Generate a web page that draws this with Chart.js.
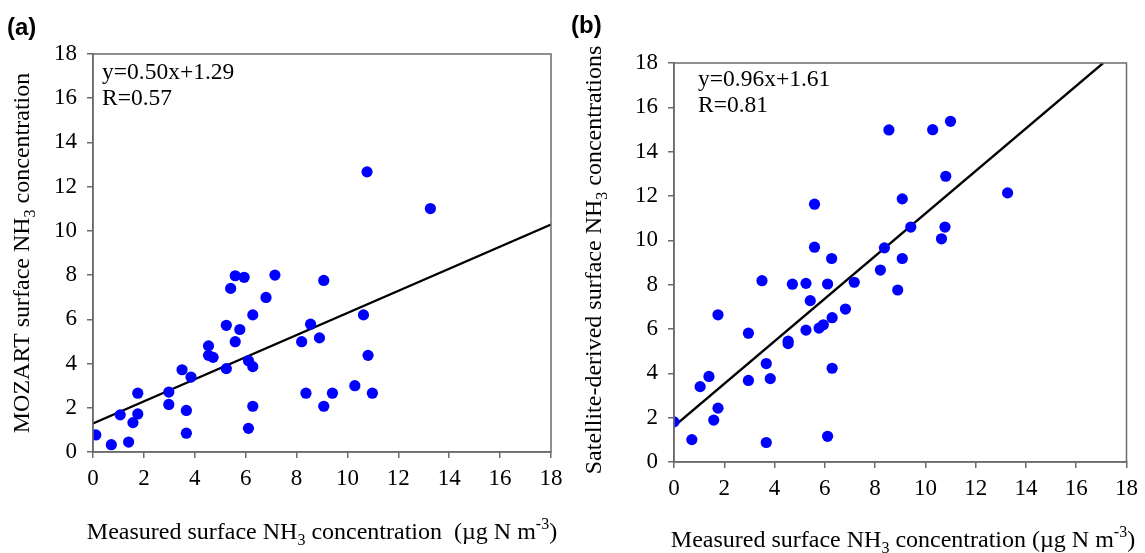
<!DOCTYPE html>
<html>
<head>
<meta charset="utf-8">
<script src="https://cdn.jsdelivr.net/npm/chart.js@4.4.0/dist/chart.umd.min.js"></script>
<style>
  html, body { margin: 0; padding: 0; background: #fff; }
  #wrap { position: relative; width: 1145px; height: 553px; }
  canvas { position: absolute; top: 0; }
</style>
</head>
<body>
<div id="wrap">
  <canvas id="chartA" width="572" height="553" style="left:0"></canvas>
  <canvas id="chartB" width="573" height="553" style="left:572px"></canvas>
</div>
<script>
// ---- data ----
const axisTicks = [0, 2, 4, 6, 8, 10, 12, 14, 16, 18];

// (a) measured vs MOZART
const measuredA = [0.11, 0.72, 1.40, 1.07, 1.57, 1.76, 1.76, 2.98, 2.98, 3.50, 3.85, 3.67, 3.67,
  4.54, 4.54, 4.72, 5.24, 5.24, 5.41, 5.59, 5.94, 5.59, 5.77, 6.28, 6.11, 6.28, 6.28, 6.11,
  6.80, 7.15, 8.20, 8.55, 8.37, 8.90, 9.07, 9.07, 9.41, 10.29, 10.63, 10.81, 10.98, 10.77, 13.26];
const mozartA = [0.77, 0.33, 0.45, 1.68, 1.33, 1.72, 2.66, 2.71, 2.15, 3.72, 3.39, 1.88, 0.85,
  4.80, 4.37, 4.28, 3.77, 5.73, 7.40, 7.97, 7.90, 4.99, 5.54, 6.20, 4.13, 3.86, 2.07, 1.07,
  6.99, 8.00, 4.99, 5.78, 2.66, 5.16, 7.76, 2.07, 2.66, 3.00, 6.20, 4.37, 2.66, 12.67, 11.01];
const fitA = { slope: 0.50, intercept: 1.29, label: 'y=0.50x+1.29', r: 'R=0.57' };

// (b) measured vs satellite-derived
const measuredB = [0.00, 0.71, 1.04, 1.39, 1.58, 1.75, 1.75, 2.96, 2.96, 3.50, 3.67, 3.83, 3.67,
  4.54, 4.54, 4.71, 5.25, 5.42, 5.25, 5.77, 5.94, 6.11, 6.29, 6.29, 6.11, 6.82, 7.17, 8.21,
  8.90, 8.55, 10.29, 11.00, 10.81, 13.27, 9.08, 5.59, 9.42, 10.78, 10.64, 5.59, 8.37, 6.27, 9.08];
const satelliteB = [1.81, 1.01, 3.40, 3.86, 1.89, 2.43, 6.64, 5.81, 3.68, 8.18, 4.44, 3.76, 0.88,
  5.45, 5.34, 8.02, 8.06, 7.28, 5.95, 6.04, 6.19, 8.03, 6.51, 4.23, 1.16, 6.90, 8.11, 8.66,
  7.76, 14.98, 14.99, 15.37, 12.89, 12.14, 11.87, 11.63, 10.60, 10.60, 10.07, 9.69, 9.66, 9.18, 9.18];
const fitB = { slope: 0.96, intercept: 1.61, label: 'y=0.96x+1.61', r: 'R=0.81' };

const AXIS_MIN = 0, AXIS_MAX = 18;
const serif = "'Liberation Serif', 'Times New Roman', serif";
const frameColor = '#6b6b6b';
const TITLE_SIZE = 24;

function pairs(xs, ys) {
  return xs.map((x, i) => ({ x: x, y: ys[i] }));
}

// regression line from the printed equation, clipped to the axis box
function fitLine(fit) {
  let xEnd = AXIS_MAX;
  if (fit.slope * xEnd + fit.intercept > AXIS_MAX) xEnd = (AXIS_MAX - fit.intercept) / fit.slope;
  return [
    { x: AXIS_MIN, y: fit.intercept },
    { x: xEnd, y: fit.slope * xEnd + fit.intercept }
  ];
}

// draw text made of parts [text, 'n' | 'sub' | 'sup'], centred on (x, y)
function drawRich(ctx, parts, x, y, size, rotate) {
  ctx.save();
  ctx.translate(x, y);
  if (rotate) ctx.rotate(-Math.PI / 2);
  ctx.fillStyle = '#000';
  ctx.textBaseline = 'alphabetic';
  ctx.textAlign = 'left';
  const fontOf = p => (p[1] === 'n' ? size : Math.round(size * 0.68)) + 'px ' + serif;
  let total = 0;
  const widths = parts.map(p => {
    ctx.font = fontOf(p);
    const w = ctx.measureText(p[0]).width;
    total += w;
    return w;
  });
  let cx = -total / 2;
  const base = size * 0.33;
  parts.forEach((p, i) => {
    ctx.font = fontOf(p);
    let dy = 0;
    if (p[1] === 'sub') dy = size * 0.25;
    if (p[1] === 'sup') dy = -size * 0.4;
    ctx.fillText(p[0], cx, base + dy);
    cx += widths[i];
  });
  ctx.restore();
}

// frame around the plot + panel letter + equation + axis titles
function decorPlugin(opts) {
  return {
    id: 'decor',
    afterDraw(chart) {
      const { ctx, chartArea } = chart;
      ctx.save();
      ctx.strokeStyle = frameColor;
      ctx.lineWidth = 1.5;
      ctx.strokeRect(chartArea.left, chartArea.top, chartArea.right - chartArea.left, chartArea.bottom - chartArea.top);

      ctx.fillStyle = '#000';
      ctx.font = "bold 24px 'Liberation Sans', Arial, sans-serif";
      ctx.textAlign = 'left';
      ctx.textBaseline = 'middle';
      ctx.fillText(opts.letter, opts.letterX, opts.letterY);

      ctx.font = '23.5px ' + serif;
      ctx.fillText(opts.fit.label, opts.eqX, opts.eqY);
      ctx.fillText(opts.fit.r, opts.eqX, opts.eqY + 26);
      ctx.restore();

      drawRich(ctx, opts.xTitle, opts.xTitleX, opts.xTitleY, TITLE_SIZE, false);
      drawRich(ctx, opts.yTitle, opts.yTitleX, opts.yTitleY, TITLE_SIZE, true);
    }
  };
}

function makeChart(id, xs, ys, fit, geom, decor) {
  const tickFont = { family: serif, size: 23 };
  return new Chart(document.getElementById(id), {
    type: 'scatter',
    plugins: [decorPlugin(decor)],
    data: {
      datasets: [
        {
          data: pairs(xs, ys),
          backgroundColor: '#0000ff',
          borderWidth: 0,
          pointRadius: 5.6,
          pointHoverRadius: 5.6
        },
        {
          type: 'line',
          data: fitLine(fit),
          borderColor: '#000',
          borderWidth: 2.3,
          pointRadius: 0,
          fill: false
        }
      ]
    },
    options: {
      responsive: false,
      animation: false,
      layout: { padding: { left: 0, top: geom.top, right: geom.right, bottom: 0 } },
      plugins: { legend: { display: false }, tooltip: { enabled: false } },
      scales: {
        x: {
          type: 'linear',
          min: AXIS_MIN,
          max: AXIS_MAX,
          afterBuildTicks: s => { s.ticks = axisTicks.map(v => ({ value: v })); },
          afterFit: s => { s.height = geom.xHeight; },
          ticks: { font: tickFont, color: '#000', padding: 7, maxRotation: 0 },
          grid: { drawOnChartArea: false, drawTicks: true, tickLength: 6, color: frameColor, lineWidth: 1.5 },
          border: { color: frameColor, width: 1.5 }
        },
        y: {
          type: 'linear',
          min: AXIS_MIN,
          max: AXIS_MAX,
          afterBuildTicks: s => { s.ticks = axisTicks.map(v => ({ value: v })); },
          afterFit: s => { s.width = geom.yWidth; },
          ticks: { font: tickFont, color: '#000', padding: 10 },
          grid: { drawOnChartArea: false, drawTicks: true, tickLength: 6, color: frameColor, lineWidth: 1.5 },
          border: { color: frameColor, width: 1.5 }
        }
      }
    }
  });
}

const nh3 = [['Measured surface NH', 'n'], ['3', 'sub'], [' concentration  (\u00b5g N m', 'n'], ['-3', 'sup'], [')', 'n']];
const nh3b = [['Measured surface NH', 'n'], ['3', 'sub'], [' concentration (\u00b5g N m', 'n'], ['-3', 'sup'], [')', 'n']];

makeChart('chartA', measuredA, mozartA, fitA,
  { top: 54, right: 21, xHeight: 101, yWidth: 93 },
  {
    letter: '(a)', letterX: 7, letterY: 28, fit: fitA, eqX: 102, eqY: 73,
    xTitle: nh3, xTitleX: 322, xTitleY: 531,
    yTitle: [['MOZART surface NH', 'n'], ['3', 'sub'], [' concentration', 'n']], yTitleX: 21, yTitleY: 253
  });

makeChart('chartB', measuredB, satelliteB, fitB,
  { top: 63, right: 14, xHeight: 91, yWidth: 102 },
  {
    letter: '(b)', letterX: -1, letterY: 26, fit: fitB, eqX: 126, eqY: 80,
    xTitle: nh3b, xTitleX: 331, xTitleY: 539,
    yTitle: [['Satellite-derived surface NH', 'n'], ['3', 'sub'], [' concentrations', 'n']], yTitleX: 21, yTitleY: 260
  });
</script>
</body>
</html>
